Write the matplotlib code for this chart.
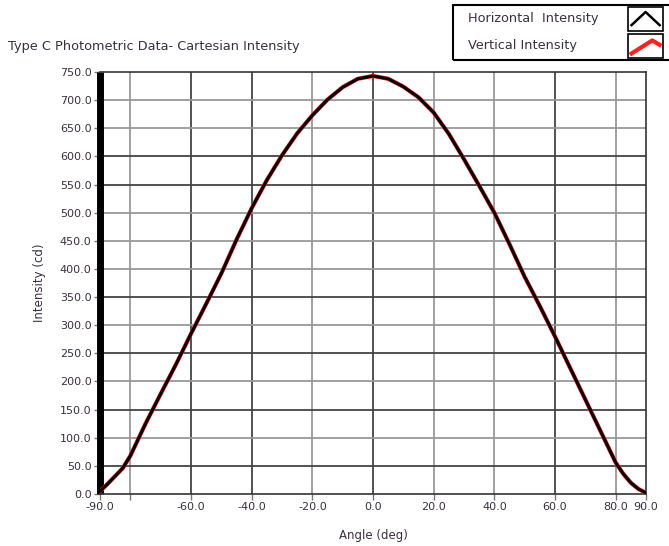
import numpy as np
import matplotlib
matplotlib.use('Agg')
import matplotlib.pyplot as plt
from matplotlib.patches import Rectangle
from matplotlib.lines import Line2D

# angle (deg) and intensity (cd)
angle = [-90, -87.5, -85, -82.5, -80, -75, -70, -65, -60, -55, -50, -45, -40, -35, -30, -25, -20, -15,
         -10, -5, 0, 5, 10, 15, 20, 25, 30, 35, 40, 45, 50, 55, 60, 65, 70, 75, 80, 82.5, 85, 87.5, 90]
horizontal = [5, 18, 32, 46, 68, 125, 178, 230, 285, 338, 392, 452, 508, 558, 602, 641, 673, 701,
              723, 738, 743, 738, 724, 705, 678, 640, 595, 548, 500, 444, 386, 334, 280, 224, 168, 112,
              56, 36, 20, 9, 2]
vertical = [5, 18, 32, 46, 68, 125, 178, 230, 285, 338, 392, 452, 508, 558, 602, 641, 673, 701,
            723, 738, 743, 738, 724, 705, 678, 640, 595, 548, 500, 444, 386, 334, 280, 224, 168, 112,
            56, 36, 20, 9, 2]

xticks = [-90, -80, -60, -40, -20, 0, 20, 40, 60, 80, 90]
xticklabels = ['-90.0', '', '-60.0', '-40.0', '-20.0', '0.0', '20.0', '40.0', '60.0', '80.0', '90.0']
yticks = np.arange(0, 751, 50)
# grid lines as they appear in the picture (dark / light)
vgrid_dark = [-60, -40, 0, 60]
vgrid_light = [-80, -20, 20, 40, 80]
hgrid_dark = [50, 150, 250, 350, 550, 600]
hgrid_light = [100, 200, 300, 400, 450, 500, 650, 700]

txt = '#3a2f3f'

fig = plt.figure(figsize=(6.69, 5.46), dpi=100)
ax = fig.add_axes([0.1495, 0.0952, 0.8161, 0.7729])

for v in vgrid_dark:
    ax.axvline(v, color='#444444', lw=1.3, zorder=1)
for v in vgrid_light:
    ax.axvline(v, color='#999999', lw=1.3, zorder=1)
for h in hgrid_dark:
    ax.axhline(h, color='#444444', lw=1.3, zorder=1)
for h in hgrid_light:
    ax.axhline(h, color='#999999', lw=1.3, zorder=1)

ax.plot(angle, vertical, color='#ff2020', lw=3.0, zorder=3, solid_capstyle='round',
        solid_joinstyle='round')
ax.plot(angle, horizontal, color='black', lw=2.2, zorder=4, solid_capstyle='round',
        solid_joinstyle='round')

ax.set_xlim(-90, 90)
ax.set_ylim(0, 750)
ax.set_xticks(xticks)
ax.set_xticklabels(xticklabels)
ax.set_yticks(yticks)
ax.set_yticklabels(['%.1f' % v for v in yticks])
ax.tick_params(axis='both', direction='out', length=4, width=1, color='#777777',
               labelsize=8, labelcolor=txt, pad=2)

ax.spines['left'].set_linewidth(5)
ax.spines['left'].set_color('black')
ax.spines['left'].set_capstyle('butt')
for s in ['top', 'right', 'bottom']:
    ax.spines[s].set_linewidth(1.2)
    ax.spines[s].set_color('#333333')

ax.set_xlabel('Angle (deg)', fontsize=8.5, color=txt, labelpad=12)
ax.set_ylabel('Intensity (cd)', fontsize=8.5, color=txt, labelpad=10)

fig.text(0.012, 0.914, 'Type C Photometric Data- Cartesian Intensity', fontsize=9.3,
         color=txt, va='center', ha='left')

# legend box, cut by the right edge as in the original
fig.patches.append(Rectangle((0.677, 0.89), 0.4, 0.1, transform=fig.transFigure,
                             fill=False, edgecolor='black', lw=1.5))
fig.text(0.700, 0.966, 'Horizontal  Intensity', fontsize=9.3, color=txt, va='center')
fig.text(0.700, 0.916, 'Vertical Intensity', fontsize=9.3, color=txt, va='center')
for yc, col in [(0.966, 'black'), (0.916, '#ff2020')]:
    fig.patches.append(Rectangle((0.939, yc - 0.022), 0.052, 0.044, transform=fig.transFigure,
                                 fill=True, facecolor='white', edgecolor='black', lw=1.2))
    if col == 'black':
        xs, ys = [0.944, 0.965, 0.986], [yc - 0.012, yc + 0.012, yc - 0.012]
        lw = 1.8
    else:
        xs, ys = [0.944, 0.975, 0.986], [yc - 0.014, yc + 0.010, yc + 0.002]
        lw = 3
    fig.lines.append(Line2D(xs, ys, transform=fig.transFigure, color=col, lw=lw))

fig.savefig('out.png', dpi=100)
